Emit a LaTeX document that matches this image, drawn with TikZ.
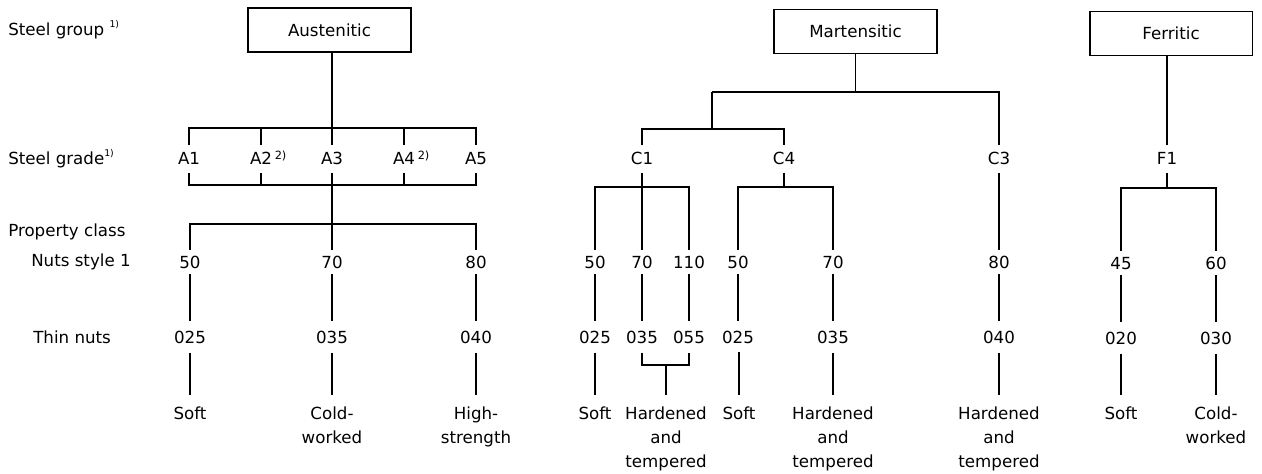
\documentclass[tikz,border=0pt]{standalone}
\usepackage{fontspec}
\setmainfont{DejaVu Sans}
\newcommand{\fnsup}[1]{\raisebox{0.85ex}{\fontsize{7}{8}\selectfont #1}}
\newcommand{\grsup}[1]{\rlap{\,\raisebox{0.6ex}{\fontsize{8.5}{9}\selectfont #1}}}
\begin{document}
\begin{tikzpicture}[x=0.75pt,y=-0.75pt,
  every node/.style={font=\fontsize{12.5}{18}\selectfont},
  conn/.style={draw=black,line width=1.25pt},
  groupbox/.style={draw=black,line width=1.25pt,minimum width=122pt,minimum height=33pt,inner sep=2pt},
  rowlabel/.style={anchor=west,inner sep=0pt},
  grade/.style={inner xsep=1pt,inner ysep=5.5pt,text height=9pt,text depth=0pt},
  prop/.style={inner xsep=1pt,inner ysep=4.5pt,text height=9pt,text depth=0pt},
  thin/.style={inner xsep=1pt,inner ysep=7pt,text height=9pt,text depth=0pt},
  kind/.style={anchor=north,align=center,inner xsep=1pt,inner ysep=8.5pt}
]
\useasboundingbox (0,0) rectangle (1262,474);

% row labels
\node[rowlabel] (lgroup) at (8,30) {Steel group \fnsup{1)}};
\node[rowlabel] (lgrade) at (8,159) {Steel grade\fnsup{1)}};
\node[rowlabel] (lprop) at (8,232) {Property class};
\node[rowlabel] (lnuts) at (31,262) {Nuts style 1};
\node[rowlabel] (lthin) at (33,337) {Thin nuts};

% ---------------- Austenitic
\node[groupbox] (aus) at (329.5,30) {Austenitic};
\node[grade] (a1) at (189,159) {A1};
\node[grade] (a2) at (261,159) {A2\grsup{2)}};
\node[grade] (a3) at (332,159) {A3};
\node[grade] (a4) at (404,159) {A4\grsup{2)}};
\node[grade] (a5) at (476,159) {A5};
\coordinate (abt) at (332,128);
\coordinate (abb) at (332,185);
\coordinate (apt) at (332,224);
\node[prop] (p50) at (190,262) {50};
\node[prop] (p70) at (332,262) {70};
\node[prop] (p80) at (476,262) {80};
\node[thin] (t025) at (190,337) {025};
\node[thin] (t035) at (332,337) {035};
\node[thin] (t040) at (476,337) {040};
\node[kind] (ksoft1) at (190,395) {Soft};
\node[kind] (kcold1) at (332,395) {Cold-\\worked};
\node[kind] (khigh) at (476,395) {High-\\strength};

\draw[conn] (a3.north) -- (a3.north |- aus.south);
\draw[conn] (a1.north) -- (a1.north |- abt) -- (a5.north |- abt) -- (a5.north);
\draw[conn] (a2.north) -- (a2.north |- abt);
\draw[conn] (a4.north) -- (a4.north |- abt);
\draw[conn] (a1.south) -- (a1.south |- abb) -- (a5.south |- abb) -- (a5.south);
\draw[conn] (a2.south) -- (a2.south |- abb);
\draw[conn] (a4.south) -- (a4.south |- abb);
\draw[conn] (a3.south) -- (p70.north);
\draw[conn] (p50.north) -- (p50.north |- apt) -- (p80.north |- apt) -- (p80.north);
\draw[conn] (p50.south) -- (t025.north);
\draw[conn] (p70.south) -- (t035.north);
\draw[conn] (p80.south) -- (t040.north);
\draw[conn] (t025.south) -- (ksoft1.north);
\draw[conn] (t035.south) -- (kcold1.north);
\draw[conn] (t040.south) -- (khigh.north);

% ---------------- Martensitic
\node[groupbox] (mar) at (855.5,31.5) {Martensitic};
\coordinate (mL) at (712,92);
\coordinate (cbt) at (712,129);
\node[grade] (c1) at (642,159) {C1};
\node[grade] (c4) at (784,159) {C4};
\node[grade] (c3) at (999,159) {C3};
\coordinate (c1b) at (642,187);
\coordinate (c4b) at (784,187);
\node[prop] (m50) at (595,262) {50};
\node[prop] (m70) at (642,262) {70};
\node[prop] (m110) at (689,262) {110};
\node[prop] (n50) at (738,262) {50};
\node[prop] (n70) at (833,262) {70};
\node[prop] (m80) at (999,262) {80};
\node[thin] (u025) at (595,337) {025};
\node[thin] (u035) at (642,337) {035};
\node[thin] (u055) at (689,337) {055};
\node[thin] (v025) at (738,337) {025};
\node[thin] (v035) at (833,337) {035};
\node[thin] (u040) at (999,337) {040};
\coordinate (hb) at (666,365);
\node[kind] (ksoft2) at (595,395) {Soft};
\node[kind] (kht1) at (666,395) {Hardened\\and\\tempered};
\node[kind] (ksoft3) at (739,395) {Soft};
\node[kind] (kht2) at (833,395) {Hardened\\and\\tempered};
\node[kind] (kht3) at (999,395) {Hardened\\and\\tempered};

\draw[conn] (mar.south) -- (mar.south |- mL);
\draw[conn] (mL) -- (c3.north |- mL) -- (c3.north);
\draw[conn] (mL) -- (cbt);
\draw[conn] (c1.north) -- (c1.north |- cbt) -- (c4.north |- cbt) -- (c4.north);
\draw[conn] (c1.south) -- (m70.north);
\draw[conn] (m50.north) -- (m50.north |- c1b) -- (m110.north |- c1b) -- (m110.north);
\draw[conn] (c4.south) -- (c4b);
\draw[conn] (n50.north) -- (n50.north |- c4b) -- (n70.north |- c4b) -- (n70.north);
\draw[conn] (c3.south) -- (m80.north);
\draw[conn] (m50.south) -- (u025.north);
\draw[conn] (m70.south) -- (u035.north);
\draw[conn] (m110.south) -- (u055.north);
\draw[conn] (n50.south) -- (v025.north);
\draw[conn] (n70.south) -- (v035.north);
\draw[conn] (m80.south) -- (u040.north);
\draw[conn] (u035.south) -- (u035.south |- hb) -- (u055.south |- hb) -- (u055.south);
\draw[conn] (hb) -- (kht1.north);
\draw[conn] (u025.south) -- (ksoft2.north);
\draw[conn] (v025.south) -- (ksoft3.north |- v025.south) -- (ksoft3.north);
\draw[conn] (v035.south) -- (kht2.north);
\draw[conn] (u040.south) -- (kht3.north);

% ---------------- Ferritic
\node[groupbox] (fer) at (1171,33.5) {Ferritic};
\node[grade] (f1) at (1167,159) {F1};
\coordinate (fb) at (1167,188);
\node[prop] (f45) at (1121,263) {45};
\node[prop] (f60) at (1216,263) {60};
\node[thin] (f020) at (1121,338) {020};
\node[thin] (f030) at (1216,338) {030};
\node[kind] (ksoft4) at (1121,395) {Soft};
\node[kind] (kcold2) at (1216,395) {Cold-\\worked};

\draw[conn] (f1.north) -- (f1.north |- fer.south);
\draw[conn] (f1.south) -- (fb);
\draw[conn] (f45.north) -- (f45.north |- fb) -- (f60.north |- fb) -- (f60.north);
\draw[conn] (f45.south) -- (f020.north);
\draw[conn] (f60.south) -- (f030.north);
\draw[conn] (f020.south) -- (ksoft4.north);
\draw[conn] (f030.south) -- (kcold2.north);
\end{tikzpicture}
\end{document}
